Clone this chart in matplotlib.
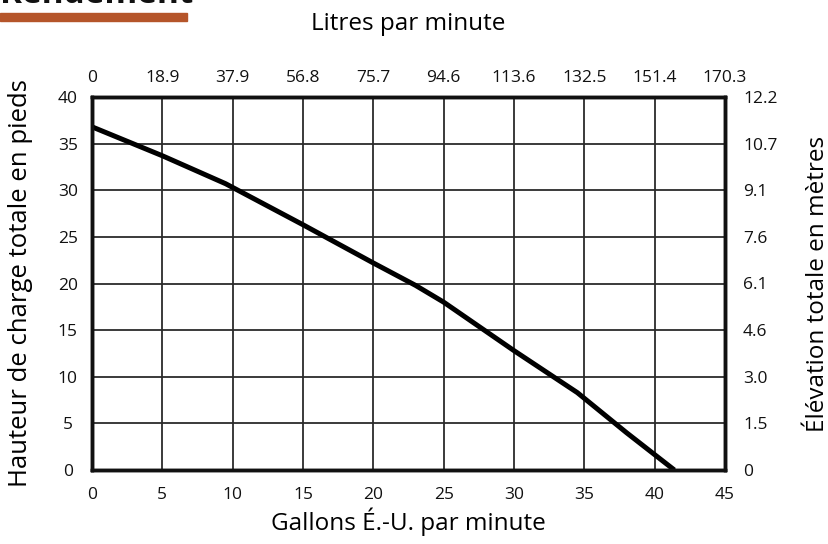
import matplotlib
matplotlib.use("Agg")
import matplotlib.pyplot as plt

# pump performance curve (US gpm vs total head in ft)
gpm  = [0, 5, 9.5, 15, 20, 23, 25, 30, 34.5, 38, 41.4]
head = [36.8, 33.7, 30.7, 26.3, 22.2, 19.8, 18.0, 12.8, 8.3, 4.0, 0.0]

gpm_ticks  = [0, 5, 10, 15, 20, 25, 30, 35, 40, 45]
lpm_labels = ["0", "18.9", "37.9", "56.8", "75.7", "94.6", "113.6", "132.5", "151.4", "170.3"]
ft_ticks   = [0, 5, 10, 15, 20, 25, 30, 35, 40]
m_labels   = ["0", "1.5", "3.0", "4.6", "6.1", "7.6", "9.1", "10.7", "12.2"]

INK, GRID, ACCENT = "#111111", "#2b2b2b", "#b5552a"
plt.rcParams.update({"font.family": ["Open Sans", "DejaVu Sans"], "font.size": 12.5,
                     "text.color": INK})
LABEL_FS = 17.5

fig = plt.figure(figsize=(8.29, 5.44), dpi=100)
ax = fig.add_axes([92 / 829, 1 - 470 / 544, (725 - 92) / 829, (470 - 97) / 544])

ax.plot(gpm, head, color="black", lw=3.6, solid_capstyle="butt", zorder=3, clip_on=False)

ax.set_xlim(0, 45)
ax.set_ylim(0, 40)
ax.set_xticks(gpm_ticks)
ax.set_yticks(ft_ticks)
ax.grid(True, color=GRID, lw=1.3)
ax.set_axisbelow(True)
for sp in ax.spines.values():
    sp.set_linewidth(2.4)
    sp.set_color(INK)
ax.tick_params(length=0, labelcolor=INK)
ax.tick_params(axis="x", pad=12)
ax.tick_params(axis="y", pad=17.5)
for t in ax.get_yticklabels():
    t.set_ha("center")
ax.set_xlabel("Gallons É.-U. par minute", fontsize=LABEL_FS)
ax.set_ylabel("Hauteur de charge totale en pieds", fontsize=18.5)
ax.xaxis.set_label_coords(0.5, -0.139)
ax.yaxis.set_label_coords(-0.1137, 0.5)
ax.xaxis.label.set_va("center")
ax.yaxis.label.set_va("center")

# top axis: litres per minute
tx = ax.twiny()
tx.set_xlim(ax.get_xlim())
tx.set_xticks(gpm_ticks)
tx.set_xticklabels(lpm_labels)
tx.tick_params(length=0, pad=8, labelcolor=INK)
tx.set_xlabel("Litres par minute", fontsize=LABEL_FS)
tx.xaxis.set_label_coords(0.5, 1.196)
tx.xaxis.label.set_va("center")

# right axis: metres
ry = ax.twinx()
ry.set_ylim(ax.get_ylim())
ry.set_yticks(ft_ticks)
ry.set_yticklabels(m_labels)
ry.tick_params(length=0, pad=13, labelcolor=INK)
ry.set_ylabel("Élévation totale en mètres", fontsize=LABEL_FS)
ry.yaxis.set_label_coords(1.147, 0.5)
ry.yaxis.label.set_va("center")
for a in (tx, ry):
    for sp in a.spines.values():
        sp.set_linewidth(2.4)
        sp.set_color(INK)

# section title, cut off at the top edge as in the source, with accent bar
fig.text(0.0, 1 - 3 / 544, "Rendement", fontsize=24, fontweight="bold",
         ha="left", va="baseline", color=INK)
fig.patches.append(plt.Rectangle((0, 1 - 21 / 544), 187 / 829, 8 / 544,
                                 transform=fig.transFigure, color=ACCENT))

fig.savefig("out.png", dpi=100)
